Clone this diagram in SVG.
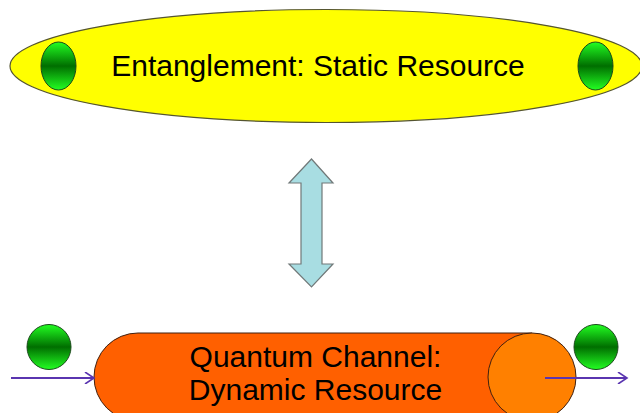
<svg xmlns="http://www.w3.org/2000/svg" width="640" height="413" viewBox="0 0 640 413">
<defs>
<linearGradient id="g" x1="0" y1="0" x2="0" y2="1">
<stop offset="0" stop-color="#22ff22"/>
<stop offset="0.5" stop-color="#006e00"/>
<stop offset="1" stop-color="#22ff22"/>
</linearGradient>
<marker id="ah" markerWidth="12" markerHeight="12" refX="10" refY="6" orient="auto" markerUnits="userSpaceOnUse">
<path d="M1,0 L10,6 L1,12" fill="none" stroke="#5a35b0" stroke-width="1.6"/>
</marker>
<style>
.ball{fill:url(#g);stroke:#1a4a1a;stroke-width:1}
.t{font-family:"Liberation Sans",Arial,sans-serif;font-size:30px;fill:#000;text-anchor:middle}
.ar{stroke:#5a35b0;stroke-width:2;fill:none;marker-end:url(#ah)}
</style>
</defs>
<rect width="640" height="413" fill="#fff"/>
<g id="entanglement">
<ellipse cx="326" cy="66" rx="316" ry="56.5" fill="#ffff00" stroke="#555530" stroke-width="1.2"/>
<ellipse class="ball" cx="58.5" cy="66" rx="17.5" ry="24"/>
<ellipse class="ball" cx="595.5" cy="66" rx="17.5" ry="24"/>
<text class="t" x="318" y="76">Entanglement: Static Resource</text>
</g>
<g id="double-arrow">
<path d="M311.5,159 L333,183 L322,183 L322,264 L333,264 L311.5,287 L289,264 L301,264 L301,183 L289,183 Z" fill="#a8dde2" stroke="#707878" stroke-width="1.2"/>
</g>
<g id="channel">
<path d="M532,333 L138,333 A44,44 0 0 0 138,421 L532,421 Z" fill="#ff6000" stroke="#402010" stroke-width="1"/>
<ellipse cx="532" cy="377" rx="44" ry="44" fill="#ff8000" stroke="#402010" stroke-width="1"/>
<text class="t" x="315.5" y="367">Quantum Channel:</text>
<text class="t" x="315.5" y="400">Dynamic Resource</text>
</g>
<g id="ball-in">
<ellipse class="ball" cx="49" cy="347" rx="22" ry="22.5"/>
</g>
<g id="ball-out">
<ellipse class="ball" cx="596" cy="347" rx="22" ry="22.5"/>
</g>
<g id="connectors">
<line class="ar" x1="11" y1="378" x2="94" y2="378"/>
<line class="ar" x1="545" y1="378" x2="627" y2="378"/>
</g>
</svg>
